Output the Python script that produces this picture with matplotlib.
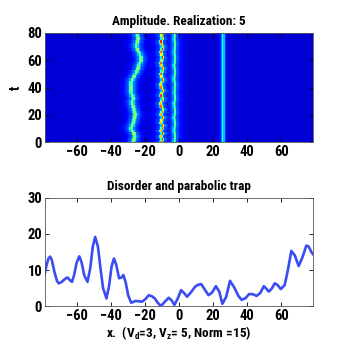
import numpy as np
import matplotlib
matplotlib.use("Agg")
import matplotlib.pyplot as plt

plt.rcParams['font.family'] = ['Roboto Condensed', 'Liberation Sans', 'DejaVu Sans']

# ---- top panel data: tracks of amplitude peaks vs time ----
t_rows = [0, 2, 4, 6, 8, 10, 12, 14, 16, 18, 20, 22, 24, 26, 28, 30, 32, 34, 36, 38, 40,
          42, 44, 46, 48, 50, 52, 54, 56, 58, 60, 62, 64, 66, 68, 70, 72, 74, 76, 78, 80]
track1_x = [-27, -26.5, -26, -26.5, -27.5, -28, -27.5, -27, -26.5, -26, -25.6, -26, -26.5,
            -27, -27.5, -27.5, -27, -27.5, -28, -28, -28, -28, -28, -27.5, -26.5, -25.5,
            -25, -24, -23.5, -23, -22.5, -22.5, -23, -23.5, -24.5, -25, -25, -24.5, -24,
            -24.5, -24.5]
track1_amp = [0.55, 0.6, 0.5, 0.62, 0.58, 0.52, 0.6, 0.55, 0.5, 0.6, 0.62, 0.55, 0.5,
              0.58, 0.6, 0.52, 0.55, 0.6, 0.5, 0.58, 0.62, 0.55, 0.5, 0.6, 0.55, 0.52,
              0.6, 0.58, 0.5, 0.55, 0.62, 0.58, 0.5, 0.55, 0.6, 0.52, 0.55, 0.6, 0.58,
              0.5, 0.55]
track2_x = [-10.5, -9.8, -10.6, -9.7, -10.8, -10.0, -9.6, -10.7, -10.2, -9.6, -10.6, -10.0,
            -9.5, -10.4, -10.9, -10.0, -9.7, -10.5, -10.2, -9.6, -10.4, -10.8, -10.0, -9.6,
            -10.3, -10.7, -9.9, -9.6, -10.4, -10.8, -10.1, -9.7, -10.3, -10.6, -9.9, -9.7,
            -10.4, -10.6, -9.8, -10.2, -10.0]
track2_amp = [0.75, 0.85, 0.7, 0.88, 0.72, 0.8, 0.86, 0.7, 0.78, 0.88, 0.72, 0.8, 0.7,
              0.86, 0.75, 0.82, 0.7, 0.88, 0.74, 0.8, 0.85, 0.7, 0.78, 0.88, 0.72, 0.8,
              0.7, 0.86, 0.75, 0.82, 0.7, 0.88, 0.74, 0.8, 0.85, 0.7, 0.78, 0.88, 0.72,
              0.8, 0.75]
track3_x = [-2.8, -2.6, -2.4, -2.6, -2.8, -2.7, -2.5, -2.4, -2.6, -2.8, -2.6, -2.4, -2.5,
            -2.7, -2.8, -2.6, -2.4, -2.5, -2.7, -2.6, -2.5, -2.4, -2.6, -2.8, -2.7, -2.5,
            -2.4, -2.6, -2.8, -2.6, -2.5, -2.4, -2.6, -2.7, -2.6, -2.5, -2.4, -2.6, -2.7,
            -2.6, -2.5]
track3_amp = 0.52
track4_x = 25.8
track4_amp = 0.38
background = 0.075

# ---- bottom panel data: disorder + trap potential ----
pot_x = [-78.8, -77.5, -76.5, -75.5, -74.5, -73, -71.5, -70.5, -69, -67.5, -66, -65.2, -64,
         -62.7, -61.5, -60, -58.4, -57, -55.5, -53.6, -52, -50.5, -49.1, -47.5, -46, -44.5,
         -42.5, -41, -39.5, -38.1, -36.8, -35.1, -33.8, -32.6, -31.2, -29.8, -28, -25.4,
         -21.6, -19.5, -17.7, -15.8, -14.2, -12.3, -10.5, -8.3, -6, -4.2, -2.7, -0.8, 1.2,
         3, 4.7, 7, 9.5, 11.3, 13, 15.2, 17.3, 19.5, 21.6, 23.6, 25.4, 27.6, 29.9, 32.3,
         34.8, 36.7, 39, 41, 43.2, 45.4, 47.6, 49.7, 51.2, 52.6, 54.3, 56.1, 57.8, 59.6,
         61.9, 63.8, 65.8, 67.9, 70.1, 72.3, 74.6, 76, 77.5, 78.8]
pot_y = [8.6, 11.5, 13.2, 13.7, 12.8, 9.5, 7.0, 6.3, 6.6, 7.2, 7.8, 7.9, 7.2, 6.7, 8.5,
         12.0, 13.8, 12.0, 8.5, 6.7, 10.5, 16.5, 19.2, 16.5, 10.5, 5.0, 2.1, 5.5, 11.0,
         13.2, 11.5, 7.7, 7.9, 8.6, 6.5, 3.0, 0.9, 1.4, 1.2, 2.0, 3.0, 2.7, 2.1, 0.8, 0.0,
         1.2, 2.3, 1.5, 0.3, 2.0, 4.4, 3.6, 2.6, 3.8, 5.4, 5.9, 6.1, 4.5, 3.0, 3.8, 5.5,
         4.0, 0.6, 2.5, 7.0, 5.2, 2.8, 1.7, 2.2, 3.3, 3.3, 2.8, 3.6, 5.5, 4.8, 4.0, 4.8,
         6.3, 5.8, 4.7, 5.8, 10.0, 15.3, 14.0, 11.1, 13.5, 16.8, 16.5, 15.0, 14.2]

x_ticks = [-60, -40, -20, 0, 20, 40, 60]

# ---- build the amplitude image from the tracks (peak value = listed amplitude) ----
x_grid = np.linspace(-78.5, 78.5, 200)
n_t = len(t_rows)
tracks = [
    (np.array(track1_x), np.array(track1_amp), 0.65, 0.18, 3.0),
    (np.array(track2_x), np.array(track2_amp), 0.55, 0.15, 3.0),
    (np.array(track3_x), np.full(n_t, track3_amp), 0.55, 0.14, 3.0),
    (np.full(n_t, track4_x), np.full(n_t, track4_amp), 0.75, 0.10, 1.4),
]
img = np.full((n_t, len(x_grid)), background)
for c, a, w, halo, hw in tracks:
    d = x_grid[None, :] - c[:, None]
    core = np.exp(-d ** 2 / (2 * w ** 2))
    wide = np.exp(-d ** 2 / (2 * hw ** 2))
    img = np.maximum(img, background + (a[:, None] - background) * core
                     + halo * wide * (1 - core))

fig = plt.figure(figsize=(3.46, 3.46), dpi=100)
ax1 = fig.add_axes([45 / 346, 1 - 142 / 346, 268 / 346, 109 / 346])
ax2 = fig.add_axes([45 / 346, 1 - 306 / 346, 268 / 346, 108 / 346])

ax1.imshow(img, cmap='jet', vmin=0, vmax=1, aspect='auto', origin='lower',
           extent=[x_grid[0], x_grid[-1], -1, 81], interpolation='nearest')
ax1.set_xlim(-78.5, 78.5)
ax1.set_ylim(0, 80)
ax1.set_yticks([0, 20, 40, 60, 80])
ax1.set_xticks(x_ticks)
ax1.set_ylabel('t', fontsize=10, fontweight='bold', labelpad=3)
ax1.set_title('Amplitude. Realization: 5', fontsize=9.5, fontweight='bold', pad=6)

ax2.plot(pot_x, pot_y, color='#3a4cf2', lw=1.9)
ax2.set_xlim(-78.5, 78.5)
ax2.set_ylim(0, 30)
ax2.set_yticks([0, 10, 20, 30])
ax2.set_xticks(x_ticks)
ax2.set_title('Disorder and parabolic trap', fontsize=9.5, fontweight='bold', pad=6)
ax2.set_xlabel(r'x.  (V$_{\mathregular{d}}$=3, V$_{\mathregular{z}}$= 5, Norm =15)',
               fontsize=9.5, fontweight='bold', labelpad=1)

for ax in (ax1, ax2):
    ax.tick_params(direction='in', top=True, right=True, length=3, width=0.6,
                   labelsize=10.5, pad=2)
    for lab in ax.get_xticklabels() + ax.get_yticklabels():
        lab.set_fontweight('bold')
    for s in ax.spines.values():
        s.set_linewidth(0.6)
        s.set_color('#555555')

fig.savefig('out.png', dpi=100)
